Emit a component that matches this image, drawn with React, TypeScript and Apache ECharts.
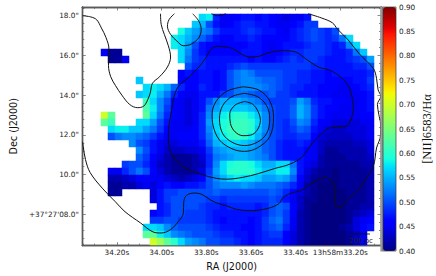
import React, { useEffect, useRef } from "react";
import * as echarts from "echarts";

// NII/Halpha map, hundredths; each row is a list of [firstColumn, ...values] runs
const row00 = [[14, 57, 58, 48, 45, 45, 46, 47, 47, 46, 47, 46, 45, 44, 45, 45, 47]];
const row01 = [[13, 56, 55, 50, 47, 45, 46, 47, 48, 48, 47, 47, 46, 45, 45, 46, 47, 49, 49]];
const row02 = [[11, 59, 56, 54, 53, 52, 49, 47, 47, 47, 48, 49, 48, 47, 47, 46, 45, 47, 48, 49, 50, 49, 48, 50]];
const row03 = [[10, 58, 57, 55, 53, 51, 49, 47, 46, 46, 47, 47, 48, 47, 46, 46, 46, 46, 47, 48, 49, 50, 49, 48, 49, 52, 57]];
const row04 = [[10, 58, 57, 54, 50, 47, 46, 46, 45, 46, 46, 46, 47, 47, 46, 45, 46, 47, 47, 47, 48, 49, 49, 48, 47, 48, 53, 57]];
const row05 = [[0, 45, 41, 41], [11, 57, 53, 49, 47, 46, 46, 46, 46, 46, 47, 47, 47, 46, 45, 46, 47, 48, 48, 49, 49, 49, 48, 47, 47, 48, 52, 56]];
const row06 = [[1, 41, 41, 45], [11, 57, 52, 49, 48, 47, 47, 47, 47, 47, 47, 46, 47, 46, 46, 47, 48, 49, 48, 49, 49, 48, 47, 47, 47, 48, 49, 50, 54]];
const row07 = [[12, 50, 48, 48, 47, 47, 47, 48, 49, 50, 49, 49, 49, 49, 49, 49, 49, 49, 49, 48, 48, 47, 47, 47, 47, 48, 48, 50]];
const row08 = [[11, 46, 47, 46, 47, 47, 46, 47, 50, 52, 53, 52, 50, 50, 50, 50, 49, 49, 48, 48, 47, 47, 46, 47, 47, 47, 47, 47, 48]];
const row09 = [[5, 56], [11, 46, 46, 46, 47, 47, 46, 47, 50, 52, 53, 53, 52, 51, 51, 50, 49, 49, 48, 48, 47, 47, 46, 46, 46, 46, 47, 47, 49]];
const row10 = [[6, 57, 58, 57, 55, 51, 48, 46, 46, 48, 47, 46, 47, 50, 52, 53, 53, 53, 52, 51, 50, 49, 48, 48, 47, 47, 46, 46, 46, 45, 45, 46, 47, 48]];
const row11 = [[5, 56, 57, 58, 55, 52, 48, 46, 45, 45, 47, 47, 47, 49, 50, 52, 52, 51, 50, 50, 51, 49, 49, 48, 47, 47, 47, 46, 46, 45, 45, 45, 45, 46, 47]];
const row12 = [[6, 61, 57, 53, 50, 46, 45, 44, 45, 47, 50, 53, 55, 55, 55, 54, 53, 52, 50, 49, 49, 49, 50, 54, 52, 48, 47, 47, 46, 46, 45, 45, 46, 47]];
const row13 = [[6, 62, 58, 53, 49, 46, 45, 44, 45, 47, 52, 54, 56, 56, 56, 56, 55, 54, 52, 50, 49, 49, 51, 55, 53, 49, 47, 46, 46, 45, 45, 45, 46, 47]];
const row14 = [[0, 70, 63], [6, 63, 57, 52, 48, 46, 45, 44, 45, 48, 53, 56, 58, 59, 60, 60, 58, 56, 53, 50, 49, 49, 51, 55, 53, 49, 47, 46, 45, 45, 45, 45, 46, 46]];
const row15 = [[0, 63, 61], [5, 57, 57, 54, 50, 47, 45, 45, 44, 45, 48, 54, 57, 59, 60, 61, 61, 60, 57, 53, 50, 49, 48, 50, 53, 52, 48, 46, 45, 44, 44, 44, 44, 45, 45]];
const row16 = [[1, 57, 58, 58, 56, 56, 54, 52, 49, 46, 45, 45, 45, 46, 48, 53, 57, 59, 61, 61, 61, 60, 56, 53, 50, 49, 48, 49, 51, 50, 47, 45, 44, 43, 43, 44, 44, 44, 45]];
const row17 = [[1, 50, 52, 53, 53, 52, 51, 49, 47, 45, 45, 46, 46, 46, 48, 52, 56, 58, 60, 61, 60, 58, 55, 52, 50, 49, 48, 48, 49, 49, 46, 44, 43, 43, 43, 43, 44, 44, 45]];
const row18 = [[4, 53, 50, 49, 47, 45, 44, 44, 45, 45, 45, 47, 51, 55, 56, 57, 57, 56, 55, 53, 51, 50, 48, 47, 47, 48, 47, 45, 43, 42, 42, 42, 42, 43, 43, 44]];
const row19 = [[5, 53, 50, 47, 45, 43, 43, 43, 44, 44, 45, 49, 53, 54, 55, 55, 55, 54, 53, 51, 50, 48, 47, 47, 47, 46, 45, 43, 41, 41, 42, 42, 42, 42, 44]];
const row20 = [[5, 51, 49, 46, 44, 42, 41, 41, 41, 42, 44, 48, 52, 53, 54, 55, 55, 54, 53, 52, 50, 48, 47, 47, 47, 46, 45, 42, 41, 41, 41, 42, 42, 42, 43]];
const row21 = [[3, 49, 50, 50, 48, 45, 43, 42, 41, 41, 41, 42, 43, 48, 53, 57, 59, 60, 60, 59, 57, 55, 55, 57, 57, 52, 47, 45, 44, 42, 41, 41, 41, 41, 41, 42, 42]];
const row22 = [[1, 45, 45, 48, 50, 52, 50, 46, 44, 42, 41, 41, 41, 42, 44, 49, 54, 57, 60, 60, 60, 60, 58, 56, 56, 58, 58, 53, 47, 44, 42, 41, 41, 40, 41, 41, 41, 41, 42]];
const row23 = [[1, 42, 42, 43, 44, 46, 46, 45, 45, 44, 43, 42, 43, 44, 46, 50, 53, 55, 57, 58, 57, 57, 56, 54, 54, 55, 54, 51, 46, 43, 41, 41, 41, 40, 41, 41, 41, 41, 42]];
const row24 = [[1, 41, 41, 42, 42, 44, 45, 44, 46, 47, 46, 46, 47, 47, 48, 50, 52, 53, 53, 53, 54, 53, 52, 52, 52, 51, 50, 48, 45, 42, 41, 40, 40, 40, 41, 41, 41, 41, 42]];
const row25 = [[1, 41, 41], [7, 44, 47, 49, 49, 50, 50, 50, 50, 50, 51, 50, 50, 50, 50, 50, 50, 50, 51, 50, 48, 46, 44, 42, 41, 40, 40, 40, 40, 41, 41, 41, 42]];
const row26 = [[7, 44, 47, 49, 50, 50, 50, 50, 50, 49, 49, 48, 49, 49, 49, 49, 49, 49, 50, 49, 47, 45, 43, 41, 41, 40, 40, 40, 40, 41, 41, 41, 42]];
const row27 = [[8, 47, 48, 50, 50, 50, 50, 49, 48, 48, 47, 48, 48, 48, 48, 47, 48, 50, 51, 50, 46, 43, 41, 40, 40, 40, 40, 40, 41, 41, 42, 42]];
const row28 = [[7, 46, 47, 48, 50, 50, 49, 49, 49, 48, 47, 47, 47, 47, 47, 47, 47, 48, 50, 51, 49, 46, 42, 41, 40, 40, 40, 40, 40, 41, 42, 43, 44]];
const row29 = [[7, 49, 49, 50, 50, 49, 49, 49, 49, 48, 47, 46, 47, 47, 47, 46, 47, 49, 51, 52, 49, 45, 42, 41, 40, 40, 40, 40, 40, 41, 44, 45, 46]];
const row30 = [[6, 57, 57, 56, 53, 51, 50, 50, 50, 50, 49, 48, 47, 47, 47, 46, 46, 47, 49, 50, 51, 48, 45, 42, 41, 40, 40, 40, 40, 41, 42, 44, 46, 47]];
const row31 = [[6, 63, 63, 58, 56, 53, 52, 51, 50, 50, 50, 49, 48, 48, 47, 47, 46, 47, 48, 49, 49, 46, 44, 42, 41, 40, 40, 40, 40, 40, 41, 43, 45]];
const row32 = [[7, 70, 67, 63, 60, 57, 54, 53, 52, 50, 50, 49, 49, 48, 47, 46, 47, 48, 48, 48, 46, 44, 42, 41, 40, 40, 40, 40, 40, 41, 43, 45]];
const mapRows = [
  row00, row01, row02, row03, row04, row05, row06, row07, row08, row09, row10,
  row11, row12, row13, row14, row15, row16, row17, row18, row19, row20, row21,
  row22, row23, row24, row25, row26, row27, row28, row29, row30, row31, row32,
];
const mapColumnCount = 39;

// Contours, [RA seconds, Dec arcseconds]
const contourWest = [[34.354, 18.0], [34.317, 17.94], [34.291, 17.8], [34.27, 17.39], [34.249, 16.9], [34.236, 16.33], [34.238, 15.5], [34.228, 14.93], [34.207, 14.49], [34.178, 14.0], [34.143, 13.53], [34.108, 13.37], [34.08, 13.45], [34.062, 13.78], [34.051, 14.11], [34.041, 14.6], [34.009, 14.93], [33.974, 15.42], [33.96, 15.92], [33.97, 16.49], [33.988, 17.06], [34.002, 17.56], [34.005, 18.1]];
const contourLoop = [[33.943, 18.1], [33.967, 17.8], [33.974, 17.47], [33.96, 17.06], [33.932, 16.73], [33.903, 16.49], [33.868, 16.57], [33.833, 16.9], [33.823, 17.31], [33.833, 17.72], [33.861, 18.1]];
const contourTop = [[33.777, 18.1], [33.749, 18.0], [33.713, 18.1]];
const contourOuter = [[33.344, 18.1], [33.285, 17.89], [33.235, 17.64], [33.214, 17.34], [33.165, 16.78], [33.115, 16.08], [33.052, 15.34], [33.038, 14.85], [33.031, 14.27], [33.019, 13.95], [33.034, 13.53], [33.028, 13.04], [33.02, 12.55], [33.02, 11.99], [33.038, 11.34], [33.052, 10.43], [33.087, 9.77], [33.129, 9.12], [33.165, 8.79], [33.203, 8.34], [33.225, 8.51], [33.221, 9.2], [33.235, 9.61], [33.263, 9.86], [33.292, 9.77], [33.334, 9.53], [33.376, 9.2], [33.419, 9.07], [33.454, 8.87], [33.475, 8.54], [33.524, 8.3], [33.602, 8.18], [33.665, 8.25], [33.708, 8.42], [33.755, 8.58], [33.784, 8.74], [33.819, 9.0], [33.854, 9.07], [33.889, 8.95], [33.901, 8.63], [33.903, 8.05], [33.925, 7.64], [33.96, 7.23], [34.002, 7.06], [34.038, 7.11], [34.094, 7.56], [34.164, 8.13], [34.207, 8.63], [34.263, 9.28], [34.32, 10.1], [34.341, 10.76], [34.351, 11.41], [34.354, 11.65]];
const contourInner = [[33.708, 16.42], [33.749, 16.46], [33.777, 16.33], [33.805, 15.83], [33.833, 15.42], [33.876, 14.93], [33.925, 14.44], [33.946, 13.86], [33.956, 13.21], [33.967, 12.47], [33.97, 11.99], [33.967, 11.41], [33.939, 10.76], [33.897, 10.35], [33.826, 10.02], [33.755, 9.81], [33.708, 9.77], [33.637, 9.86], [33.567, 10.05], [33.496, 10.3], [33.425, 10.53], [33.369, 10.91], [33.326, 11.58], [33.283, 12.07], [33.255, 12.32], [33.213, 12.4], [33.17, 12.45], [33.149, 12.89], [33.142, 13.38], [33.149, 13.96], [33.163, 14.45], [33.2, 14.93], [33.248, 15.26], [33.299, 15.42], [33.355, 15.83], [33.404, 16.19], [33.461, 16.24], [33.524, 16.13], [33.56, 15.97], [33.602, 15.92], [33.637, 16.03], [33.679, 16.33], [33.708, 16.42]];
const coreOuter = [[33.636, 14.42], [33.565, 14.26], [33.516, 13.71], [33.499, 12.89], [33.516, 11.91], [33.572, 11.34], [33.629, 11.17], [33.685, 11.3], [33.741, 11.74], [33.77, 12.48], [33.774, 13.06], [33.755, 13.71], [33.706, 14.21], [33.636, 14.42]];
const coreMiddle = [[33.629, 14.09], [33.572, 13.93], [33.53, 13.47], [33.516, 12.81], [33.53, 12.07], [33.572, 11.63], [33.629, 11.46], [33.685, 11.63], [33.727, 12.07], [33.741, 12.81], [33.727, 13.47], [33.685, 13.93], [33.629, 14.09]];
const coreInner = [[33.629, 13.68], [33.593, 13.55], [33.568, 13.17], [33.558, 12.73], [33.572, 12.24], [33.601, 11.99], [33.636, 11.96], [33.671, 12.15], [33.692, 12.57], [33.695, 13.06], [33.671, 13.5], [33.629, 13.68]];
const contours = [contourWest, contourLoop, contourTop, contourOuter, contourInner, coreOuter, coreMiddle, coreInner];

// Axes
const raTicks = [34.2, 34.0, 33.8, 33.6, 33.4, 33.2];
const raLabels = ["34.20s", "34.00s", "33.80s", "33.60s", "33.40s", "13h58m33.20s"];
const raMinor = [34.35, 34.3, 34.25, 34.15, 34.1, 34.05, 33.95, 33.9, 33.85, 33.75, 33.7, 33.65, 33.55, 33.5, 33.45, 33.35, 33.3, 33.25, 33.15, 33.1, 33.05];
const decTicks = [18, 16, 14, 12, 10, 8];
const decLabels = ['18.0"', '16.0"', '14.0"', '12.0"', '10.0"', `+37°27'08.0"`];
const decMinor = [17.6, 17.2, 16.8, 16.4, 15.6, 15.2, 14.8, 14.4, 13.6, 13.2, 12.8, 12.4, 11.6, 11.2, 10.8, 10.4, 9.6, 9.2, 8.8, 8.4, 7.6, 7.2, 6.8, 6.4, 18.4];
const colorMin = 0.4;
const colorMax = 0.9;
const colorStep = 0.05;

function ramp(points: number[][], t: number) {
  for (let i = 1; i < points.length; i++) {
    if (t <= points[i][0]) {
      const [a, va] = points[i - 1];
      const [b, vb] = points[i];
      return Math.round(255 * (va + ((vb - va) * (t - a)) / (b - a)));
    }
  }
  return 0;
}
const jet = Array.from({ length: 65 }, (_, i) => {
  const t = i / 64;
  const r = ramp([[0, 0], [0.35, 0], [0.66, 1], [0.89, 1], [1, 0.5]], t);
  const g = ramp([[0, 0], [0.125, 0], [0.375, 1], [0.64, 1], [0.91, 0], [1, 0]], t);
  const b = ramp([[0, 0.5], [0.11, 1], [0.34, 1], [0.65, 0], [1, 0]], t);
  return `rgb(${r},${g},${b})`;
});

const FONT = "DejaVu Sans";
const frame = "#5a5a5a";
const raRange = { min: 33.018, max: 34.355, inverse: true };
const decRange = { min: 6.424, max: 18.44 };

function raFormat(v: number) {
  const i = raTicks.findIndex((t) => Math.abs(t - v) < 1e-6);
  return i < 0 ? "" : raLabels[i];
}
function decFormat(v: number) {
  const i = decTicks.findIndex((t) => Math.abs(t - v) < 1e-6);
  return i < 0 ? "" : decLabels[i];
}

function frameAxis(range: any, position: string, ticks: number[], length: number, labels: any, extra: any = {}) {
  return {
    type: "value",
    gridIndex: 1,
    position,
    ...range,
    splitLine: { show: false },
    axisLine: { show: true, onZero: false, lineStyle: { color: frame, width: 1.4 } },
    axisTick: { show: true, inside: true, length, customValues: ticks, lineStyle: { color: frame, width: 0.7 } },
    axisLabel: labels
      ? { show: true, customValues: ticks, formatter: labels, fontFamily: FONT, fontSize: 7.3, color: "#222", margin: 3.5, hideOverlap: false }
      : { show: false },
    ...extra,
  };
}

export default function App() {
  const ref = useRef<HTMLDivElement>(null);
  useEffect(() => {
    document.body.style.margin = "0";
    const chart = echarts.init(ref.current!, undefined, { renderer: "svg" });
    const cells: number[][] = [];
    mapRows.forEach((runs, r) =>
      runs.forEach(([start, ...vals]) =>
        vals.forEach((v, i) => cells.push([start + i, r, v / 100]))
      )
    );
    const columnNames = Array.from({ length: mapColumnCount }, (_, i) => String(i));
    const rowNames = mapRows.map((_, i) => String(i));
    chart.setOption({
      animation: false,
      backgroundColor: "#fff",
      tooltip: { show: false },
      grid: [
        { left: 101, top: 14, width: 273, height: 231 },
        { left: 65, top: 7, width: 316, height: 244 },
        { left: 383, top: 7, width: 13, height: 244 },
      ],
      visualMap: {
        type: "continuous",
        seriesIndex: 0,
        min: colorMin,
        max: colorMax,
        calculable: false,
        realtime: false,
        hoverLink: false,
        show: true,
        left: 383,
        top: 7,
        padding: 0,
        itemWidth: 13,
        itemHeight: 244,
        text: undefined,
        showLabel: false,
        inRange: { color: jet },
      },
      xAxis: [
        { type: "category", gridIndex: 0, data: columnNames, show: false },
        frameAxis(raRange, "bottom", raTicks, 3.5, raFormat, {
          name: "RA (J2000)",
          nameLocation: "middle",
          nameGap: 15,
          nameTextStyle: { fontFamily: FONT, fontSize: 9.6, color: "#111" },
        }),
        frameAxis(raRange, "bottom", raMinor, 2, null),
        frameAxis(raRange, "top", raTicks, 3.5, null),
        frameAxis(raRange, "top", raMinor, 2, null),
        { type: "value", gridIndex: 2, min: 0, max: 1, show: false },
      ],
      yAxis: [
        { type: "category", gridIndex: 0, data: rowNames, inverse: true, show: false },
        frameAxis(decRange, "left", decTicks, 3.5, decFormat, {
          name: "Dec (J2000)",
          nameLocation: "middle",
          nameGap: 55,
          nameTextStyle: { fontFamily: FONT, fontSize: 9.6, color: "#111" },
        }),
        frameAxis(decRange, "left", decMinor, 2, null),
        frameAxis(decRange, "right", decTicks, 3.5, null),
        frameAxis(decRange, "right", decMinor, 2, null),
        {
          type: "value",
          gridIndex: 2,
          position: "right",
          min: colorMin,
          max: colorMax,
          interval: colorStep,
          splitLine: { show: false },
          axisLine: { show: false },
          axisTick: { show: false },
          axisLabel: {
            formatter: (v: number) => v.toFixed(2),
            fontFamily: FONT,
            fontSize: 7.3,
            color: "#222",
            margin: 3,
            showMinLabel: true,
            showMaxLabel: true,
          },
          name: "[NII]6583/Hα",
          nameLocation: "middle",
          nameGap: 24,
          nameRotate: 90,
          nameTextStyle: { fontFamily: "Liberation Serif", fontSize: 12.5, color: "#111" },
        },
      ],
      series: [
        {
          type: "heatmap",
          xAxisIndex: 0,
          yAxisIndex: 0,
          data: cells,
          silent: true,
          progressive: 0,
          itemStyle: { borderWidth: 0 },
          emphasis: { disabled: true },
        },
        ...contours.map((points) => ({
          type: "line",
          xAxisIndex: 1,
          yAxisIndex: 1,
          data: points,
          smooth: 0.35,
          symbol: "none",
          silent: true,
          z: 6,
          lineStyle: { color: "#111", width: 1 },
        })),
      ],
      graphic: [
        { type: "rect", silent: true, z: 20, shape: { x: 380.3, y: 6.5, width: 2.7, height: 245 }, style: { fill: "#9a9a9a" } },
        { type: "rect", silent: true, z: 20, shape: { x: 383, y: 7, width: 13, height: 244 }, style: { fill: "none", stroke: "#333", lineWidth: 0.7 } },
        { type: "line", silent: true, z: 20, shape: { x1: 352, y1: 234, x2: 370, y2: 234 }, style: { stroke: "#111", lineWidth: 0.9 } },
        { type: "text", silent: true, z: 20, x: 361, y: 240.5, style: { text: "200 pc", fontFamily: FONT, fontSize: 7, fill: "#222", align: "center", verticalAlign: "middle" } },
      ],
    });
    return () => chart.dispose();
  }, []);
  return <div ref={ref} style={{ position: "absolute", left: 0, top: 0, width: 436, height: 276 }} />;
}
